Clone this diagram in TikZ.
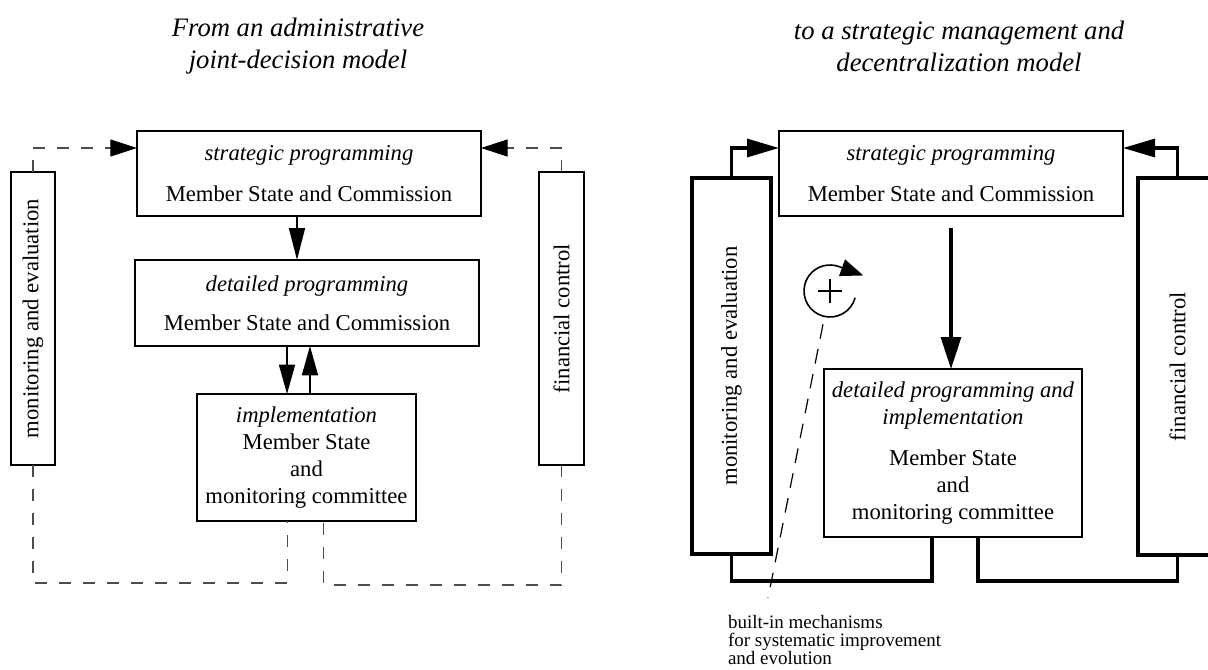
\documentclass[tikz,border=0pt]{standalone}
\usepackage{fontspec}
\setmainfont{Liberation Serif}
\usepackage{graphicx}
\usetikzlibrary{arrows.meta}

\begin{document}
\begin{tikzpicture}
[x=0.75pt, y=-0.75pt,
  every node/.style={font=\fontsize{17}{20.25}\selectfont, inner sep=0pt, outer sep=0pt},
  titledecorate/.style={align=center, font=\fontsize{20}{24}\selectfont\itshape},
  boxdecorate/.style={shape=rectangle, draw, line width=1.2pt, align=center},
  sidedecorate/.style={shape=rectangle, draw, line width=#1},
  dashdecorate/.style={draw=black!70, line width=0.8pt, dash pattern=on 9pt off 9pt},
  linedecorate/.style={line width=1.2pt},
  heavydecorate/.style={line width=2.4pt},
  mechdecorate/.style={line width=0.9pt, dash pattern=on 11pt off 8pt}]
\useasboundingbox (0,0) rectangle (1208,669);
%% titles
\node (titleL) at (298,46) [titledecorate] {From an administrative\\joint-decision model};
\node (titleR) at (959,46) [titledecorate] {to a strategic management and\\decentralization model};
%% left model: boxes
\node (stratL) at (309,173.5) [boxdecorate, minimum width=258pt, minimum height=63.75pt]
  {\textit{strategic programming}\\[10pt]Member State and Commission};
\node (detL) at (307,303) [boxdecorate, minimum width=258pt, minimum height=64.5pt]
  {\textit{detailed programming}\\[9pt]Member State and Commission};
\node (implL) at (306.5,457.5) [boxdecorate, minimum width=164.25pt, minimum height=95.25pt]
  {\textit{implementation}\\Member State\\and\\monitoring committee};
%% right model: boxes
\node (stratR) at (951,173.5) [boxdecorate, minimum width=258pt, minimum height=63.75pt]
  {\textit{strategic programming}\\[10pt]Member State and Commission};
\node (detR) at (953,453) [boxdecorate, minimum width=193.5pt, minimum height=126pt]
  {\textit{detailed programming and}\\\textit{implementation}\\[10.5pt]Member State\\and\\monitoring committee};
%% side bars
\foreach \nodename/\x/\y/\w/\h/\lw/\txt in {monL/33/318.5/33pt/219.75pt/1.2pt/monitoring and evaluation,
  finL/561.5/318.5/33.75pt/219.75pt/1.2pt/financial control,
  monR/731.5/366/59.25pt/282pt/2.8pt/monitoring and evaluation,
  finR/1177.5/366.5/59.25pt/282.75pt/2.8pt/financial control}
{
  \node (\nodename) at (\x,\y) [sidedecorate=\lw, minimum width=\w, minimum height=\h]
    {\rotatebox{90}{\txt}};
}
%% left model: connectors
\draw[dashdecorate, -{Triangle[length=20pt,width=12.75pt,color=black]}]
  (monL.north) |- ([yshift=-12.75pt]stratL.north west);
\draw[dashdecorate, -{Triangle[length=20pt,width=12.75pt,color=black]}]
  (finL.north) |- ([yshift=-12.75pt]stratL.north east);
\draw[dashdecorate] (monL.south) -- ++(0,118) -| ([xshift=-14.6pt]implL.south);
\draw[dashdecorate] (finL.south) -- ++(0,120) -| ([xshift=12.4pt]implL.south);
\draw[linedecorate, -{Triangle[length=24pt,width=12pt]}]
  ([xshift=-9pt]stratL.south) -- ([xshift=-9pt]stratL.south |- detL.north);
\draw[linedecorate, -{Triangle[length=22pt,width=12pt]}]
  ([xshift=-14.6pt]implL.north |- detL.south) -- ([xshift=-14.6pt]implL.north);
\draw[linedecorate, -{Triangle[length=22pt,width=12pt]}]
  ([xshift=2.6pt]implL.north) -- ([xshift=2.6pt]implL.north |- detL.south);
%% right model: connectors
\draw[heavydecorate, -{Triangle[length=24pt,width=13.5pt]}]
  (monR.north) |- ([yshift=-12.75pt]stratR.north west);
\draw[heavydecorate, -{Triangle[length=24pt,width=13.5pt]}]
  (finR.north) |- ([yshift=-12.75pt]stratR.north east);
\draw[heavydecorate, -{Triangle[length=24pt,width=15pt]}]
  ([yshift=-9pt]stratR.south) -- (stratR.south |- detR.north);
\draw[heavydecorate] (monR.south) -- ++(0,27) -| ([xshift=-15.75pt]detR.south);
\draw[heavydecorate] ([xshift=18.75pt]detR.south) -- ++(0,44) -| (finR.south);
%% improvement loop
\node (plus) at (830,291) [shape=circle, minimum size=39pt] {};
\draw[line width=1.1pt] ([xshift=-9pt]plus.center) -- ([xshift=9pt]plus.center);
\draw[line width=1.1pt] ([yshift=-9pt]plus.center) -- ([yshift=9pt]plus.center);
\draw[line width=1.2pt, -{Triangle[length=17pt,width=13pt]}]
  (plus.-15) arc[start angle=-15, end angle=-290, radius=19.5pt] -- ++(-20:19.5pt);
\coordinate (mechend) at (768,598);
\draw[mechdecorate, shorten <=6pt] (plus.-102) -- (mechend);
\node (mech) at (728,615) [anchor=north west, align=left, font=\fontsize{14.25}{13.6}\selectfont]
  {built-in mechanisms\\for systematic improvement\\and evolution};
\end{tikzpicture}
\end{document}
